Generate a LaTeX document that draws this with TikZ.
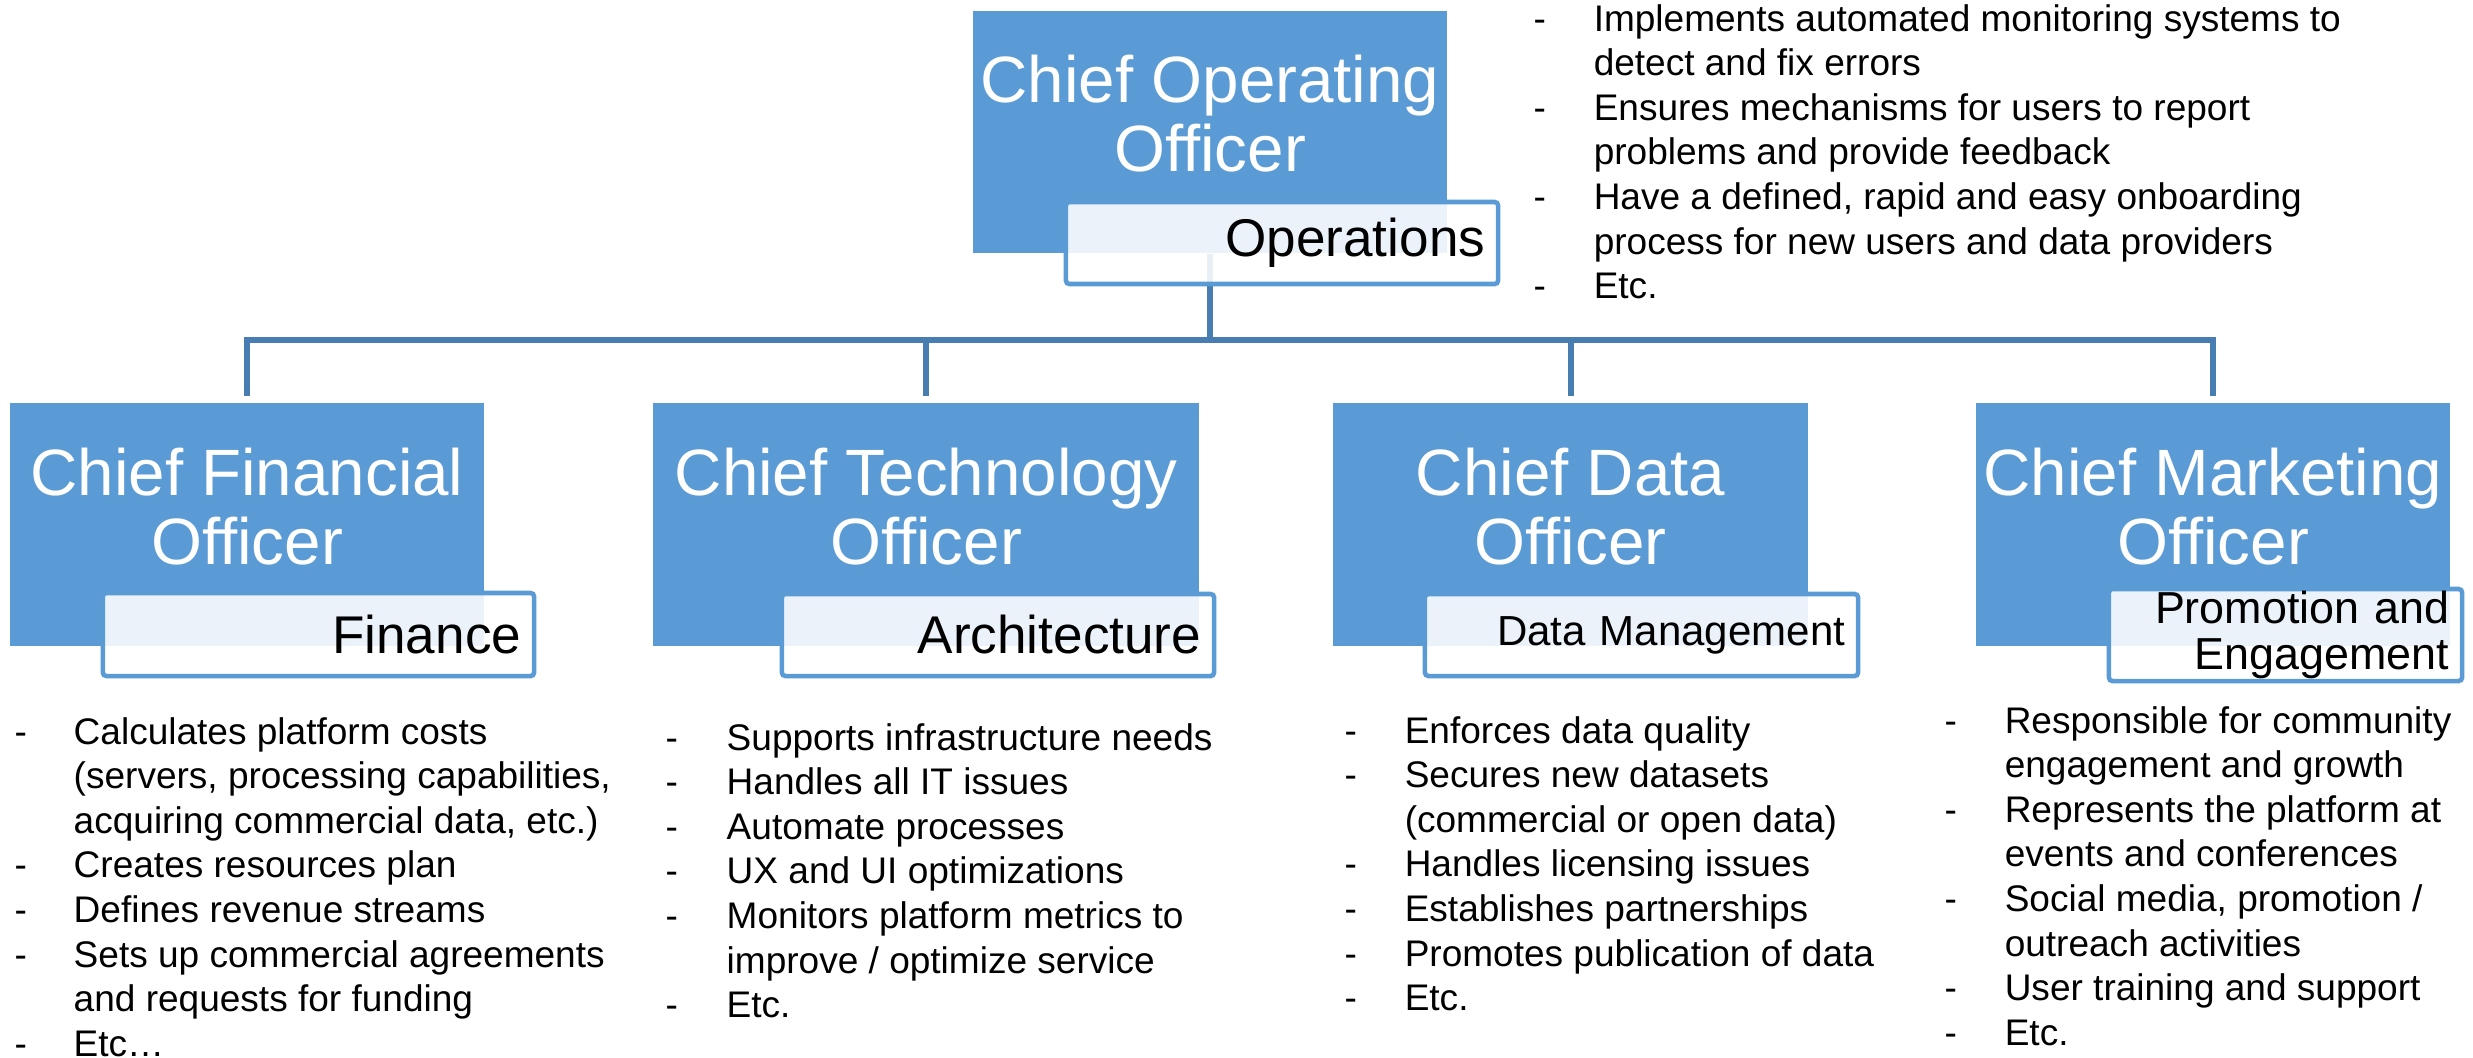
\documentclass[tikz,border=0pt]{standalone}
\usepackage{fontspec}
\setmainfont{Liberation Sans}
\definecolor{boxblue}{RGB}{91,155,213}
\definecolor{linkblue}{RGB}{71,125,176}
\begin{document}
\begin{tikzpicture}[x=0.01cm,y=-0.01cm,
  role/.style={fill=boxblue, draw=none, inner sep=0, minimum height=2.43cm},
  title/.style={anchor=north, inner sep=0, align=center, text=white, font=\fontsize{18.63pt}{19.63pt}\selectfont},
  unit/.style={draw=boxblue, line width=1.3pt, fill=white, fill opacity=0.88, text opacity=1, rounded corners=1pt, align=right, inner xsep=0.13cm, inner ysep=0, font=\fontsize{15.1pt}{16pt}\selectfont},
  conn/.style={draw=linkblue, line width=1.7pt},
  duties/.style={anchor=base west, inner sep=0, font=\fontsize{10.53pt}{12.69pt}\selectfont}
]
\useasboundingbox (0,0) rectangle (2473,1057);

% role boxes
\node[role, minimum width=4.74cm, minimum height=2.42cm] (coo) at (1210,132) {};
\node[role, minimum width=4.74cm] (cfo) at (247,524.5) {};
\node[role, minimum width=5.46cm] (cto) at (926,524.5) {};
\node[role, minimum width=4.75cm] (cdo) at (1570.5,524.5) {};
\node[role, minimum width=4.74cm] (cmo) at (2213,524.5) {};

% connectors
\coordinate (bus) at (1210,340);
\draw[conn] (coo.south) -- (coo.south |- bus);
\draw[conn, shorten <=0.06cm, shorten >=0.06cm] (cfo.north) |- (bus) -| (cmo.north);
\draw[conn, shorten <=0.06cm] (cto.north) -- (cto.north |- bus);
\draw[conn, shorten <=0.06cm] (cdo.north) -- (cdo.north |- bus);

% unit labels
\node[unit, minimum width=4.32cm, minimum height=0.82cm, text width=4.06cm] (coou) at (1282,243) {Operations};
\node[unit, minimum width=4.31cm, minimum height=0.83cm, text width=4.05cm] (cfou) at (318.5,634.5) {Finance};
\node[unit, minimum width=4.32cm, minimum height=0.82cm, text width=4.06cm] (ctou) at (998,635) {Architecture};
\node[unit, minimum width=4.33cm, minimum height=0.82cm, text width=4.07cm, font=\fontsize{11.95pt}{13pt}\selectfont] (cdou) at (1641.5,635) {Data Management};
\node[unit, minimum width=3.53cm, minimum height=0.92cm, text width=3.27cm, font=\fontsize{12.75pt}{13.1pt}\selectfont] (cmou) at (2285.5,635) {Promotion and\\Engagement};

% titles
\node[title] (cootitle) at (1210,54) {Chief Operating\\Officer};
\node[title] (cfotitle) at (247,447) {Chief Financial\\Officer};
\node[title] (ctotitle) at (926,447) {Chief Technology\\Officer};
\node[title] (cdotitle) at (1570.5,447) {Chief Data\\Officer};
\node[title] (cmotitle) at (2213,447) {Chief Marketing\\Officer};

% duty lists
\node[duties] (cooduties) at (1533,31) {\begin{tabular}[t]{@{}p{0.6cm}@{}l@{}}
-&Implements automated monitoring systems to\\
&detect and fix errors\\
-&Ensures mechanisms for users to report\\
&problems and provide feedback\\
-&Have a defined, rapid and easy onboarding\\
&process for new users and data providers\\
-&Etc.
\end{tabular}};

\node[duties] (cfoduties) at (14,744) {\begin{tabular}[t]{@{}p{0.59cm}@{}l@{}}
-&Calculates platform costs\\
&(servers, processing capabilities,\\
&acquiring commercial data, etc.)\\
-&Creates resources plan\\
-&Defines revenue streams\\
-&Sets up commercial agreements\\
&and requests for funding\\
-&Etc…
\end{tabular}};

\node[duties] (ctoduties) at (665,750) {\begin{tabular}[t]{@{}p{0.61cm}@{}l@{}}
-&Supports infrastructure needs\\
-&Handles all IT issues\\
-&Automate processes\\
-&UX and UI optimizations\\
-&Monitors platform metrics to\\
&improve / optimize service\\
-&Etc.
\end{tabular}};

\node[duties] (cdoduties) at (1344,743) {\begin{tabular}[t]{@{}p{0.6cm}@{}l@{}}
-&Enforces data quality\\
-&Secures new datasets\\
&(commercial or open data)\\
-&Handles licensing issues\\
-&Establishes partnerships\\
-&Promotes publication of data\\
-&Etc.
\end{tabular}};

\node[duties] (cmoduties) at (1944,733) {\begin{tabular}[t]{@{}p{0.6cm}@{}l@{}}
-&Responsible for community\\
&engagement and growth\\
-&Represents the platform at\\
&events and conferences\\
-&Social media, promotion /\\
&outreach activities\\
-&User training and support\\
-&Etc.
\end{tabular}};
\end{tikzpicture}
\end{document}
